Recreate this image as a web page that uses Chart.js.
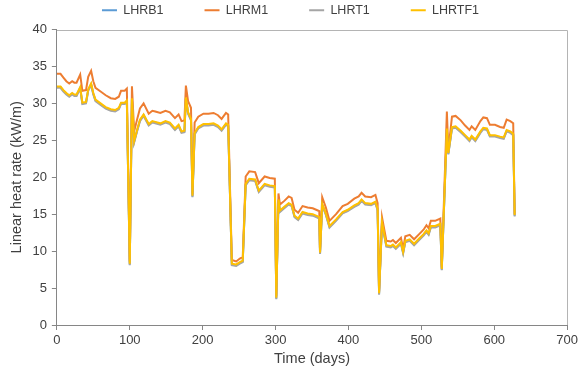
<!DOCTYPE html>
<html>
<head>
<meta charset="utf-8">
<script src="https://cdn.jsdelivr.net/npm/chart.js@4.4.1/dist/chart.umd.min.js"></script>
<style>
  html, body { margin: 0; padding: 0; background: #fff; }
  #wrap { width: 581px; height: 373px; }
</style>
</head>
<body>
<div id="wrap"><canvas id="canvas" width="581" height="373"></canvas></div>
<script>
// tempo (dias)
let dias = [0,5,9,13,17,21,24,27,32,35,
  40,43,47,50,53,60,67,74,80,85,
  88,93,96,100,103,106,110,114,119,126,
  131,135,142,149,155,162,167,171,175,177,
  180,184,186,189,194,201,208,215,221,226,
  232,235,240,246,251,255,259,264,272,277,
  285,292,299,301,304,306,312,318,322,326,
  331,337,344,351,358,360,361,364,369,374,
  383,392,399,408,414,418,423,431,437,440,
  442,446,452,458,461,465,472,475,478,484,
  490,497,503,507,510,513,519,526,528,535,
  537,542,547,554,560,566,569,574,581,585,
  590,594,601,608,613,617,622,626,628];

let lhrb1 = [32.2,32.2,31.7,31.3,31.0,31.3,31.1,31.1,32.1,30.0,
  30.1,31.8,32.6,31.3,30.4,29.9,29.4,29.1,29.0,29.3,
  30.0,30.0,30.3,8.2,30.6,24.8,26.3,27.7,28.4,27.1,
  27.5,27.4,27.2,27.5,27.3,26.5,27.0,26.1,26.2,30.7,
  28.7,27.8,17.4,25.9,26.7,27.1,27.1,27.2,26.9,26.4,
  27.2,27.0,8.2,8.1,8.4,8.6,19.0,19.7,19.6,18.1,
  19.0,18.8,18.7,3.6,16.9,15.4,15.9,16.4,16.2,14.7,
  14.3,15.2,15.0,14.9,14.6,14.5,9.7,16.3,15.0,13.3,
  14.2,15.2,15.5,16.1,16.4,16.9,16.4,16.3,16.6,15.6,
  4.2,13.8,10.7,10.6,10.8,10.4,11.1,9.8,11.3,11.5,
  10.9,11.6,12.2,12.7,12.3,13.3,13.3,13.6,7.5,26.5,
  23.2,26.7,26.8,26.2,25.6,25.0,25.5,25.0,26.1,26.6,
  26.5,25.6,25.6,25.4,25.3,26.3,26.1,25.8,14.8];

let lhrm1 = [34.0,34.0,33.5,33.0,32.7,33.0,32.8,32.8,33.9,31.7,
  31.8,33.6,34.4,33.0,32.1,31.6,31.1,30.7,30.6,30.9,
  31.7,31.7,32.0,8.6,32.3,26.2,27.8,29.3,30.0,28.6,
  29.0,28.9,28.7,29.0,28.8,28.0,28.5,27.6,27.7,32.4,
  30.3,29.4,17.7,27.4,28.2,28.6,28.6,28.7,28.4,27.9,
  28.7,28.5,8.8,8.6,9.0,9.2,20.1,20.8,20.7,19.2,
  20.1,19.9,19.8,3.9,17.8,16.3,16.8,17.4,17.2,15.6,
  15.2,16.1,15.9,15.8,15.5,15.4,10.0,17.3,15.9,14.1,
  15.0,16.1,16.4,17.1,17.4,17.9,17.4,17.3,17.6,16.5,
  4.5,14.6,11.4,11.3,11.5,11.1,11.8,10.3,12.0,12.2,
  11.6,12.3,12.9,13.5,13.1,14.1,14.1,14.4,7.8,28.9,
  23.6,28.2,28.3,27.7,27.0,26.4,26.9,26.4,27.6,28.1,
  28.0,27.1,27.1,26.8,26.7,27.8,27.6,27.3,15.0];

let lhrt1 = [32.1,32.1,31.6,31.2,30.9,31.2,31.0,31.0,32.0,29.9,
  30.0,31.7,32.5,31.2,30.3,29.8,29.3,29.0,28.9,29.2,
  29.9,29.9,30.2,8.1,30.5,24.7,26.2,27.6,28.3,27.0,
  27.4,27.3,27.1,27.4,27.2,26.4,26.9,26.0,26.1,30.6,
  28.6,27.7,17.3,25.8,26.6,27.0,27.0,27.1,26.8,26.3,
  27.1,26.9,8.1,8.0,8.3,8.5,18.9,19.6,19.5,18.0,
  18.9,18.7,18.6,3.5,16.8,15.3,15.8,16.3,16.1,14.6,
  14.2,15.1,14.9,14.8,14.5,14.4,9.6,16.2,14.9,13.2,
  14.1,15.1,15.4,16.0,16.3,16.8,16.3,16.2,16.5,15.5,
  4.1,13.7,10.6,10.5,10.7,10.3,11.0,9.7,11.2,11.4,
  10.8,11.5,12.1,12.6,12.2,13.2,13.2,13.5,7.4,26.4,
  23.1,26.6,26.7,26.1,25.5,24.9,25.4,24.9,26.0,26.5,
  26.4,25.5,25.5,25.3,25.2,26.2,26.0,25.7,14.7];

let lhrtf1 = [32.3,32.3,31.8,31.4,31.1,31.4,31.2,31.2,32.2,30.1,
  30.2,31.9,32.7,31.4,30.5,30.0,29.5,29.2,29.1,29.4,
  30.1,30.1,30.4,8.3,30.7,24.9,26.4,27.8,28.5,27.2,
  27.6,27.5,27.3,27.6,27.4,26.6,27.1,26.2,26.3,30.8,
  28.8,27.9,17.5,26.0,26.8,27.2,27.2,27.3,27.0,26.5,
  27.3,27.1,8.3,8.2,8.5,8.7,19.1,19.8,19.7,18.2,
  19.1,18.9,18.8,3.7,17.0,15.5,16.0,16.5,16.3,14.8,
  14.4,15.3,15.1,15.0,14.7,14.6,9.8,16.4,15.1,13.4,
  14.3,15.3,15.6,16.2,16.5,17.0,16.5,16.4,16.7,15.7,
  4.3,13.9,10.8,10.7,10.9,10.5,11.2,9.9,11.4,11.6,
  11.0,11.7,12.3,12.8,12.4,13.4,13.4,13.7,7.6,26.6,
  23.3,26.8,26.9,26.3,25.7,25.1,25.6,25.1,26.2,26.7,
  26.6,25.7,25.7,25.5,25.4,26.4,26.2,25.9,14.9];

function pontos(valores) {
  let out = [];
  for (let i = 0; i < dias.length; i++) {
    out.push({x: dias[i], y: valores[i]});
  }
  return out;
}

Chart.defaults.font.family = "'Liberation Sans', Arial, sans-serif";
Chart.defaults.color = '#404040';

// linha de cima e da direita da area do grafico
let moldura = {
  id: 'moldura',
  beforeDatasetsDraw(chart) {
    let a = chart.chartArea;
    let ctx = chart.ctx;
    ctx.save();
    ctx.strokeStyle = '#b4b4b4';
    ctx.lineWidth = 1;
    ctx.beginPath();
    ctx.moveTo(a.left, Math.round(a.top) + 0.5);
    ctx.lineTo(Math.round(a.right) + 0.5, Math.round(a.top) + 0.5);
    ctx.lineTo(Math.round(a.right) + 0.5, a.bottom);
    ctx.stroke();
    ctx.restore();
  }
};

let configuracao = {
  type: 'line',
  data: {
    datasets: [{
      label: 'LHRB1',
      data: pontos(lhrb1),
      borderColor: '#5B9BD5',
      backgroundColor: '#5B9BD5',
      borderWidth: 2,
      pointRadius: 0,
      order: 3
    }, {
      label: 'LHRM1',
      data: pontos(lhrm1),
      borderColor: '#ED7D31',
      backgroundColor: '#ED7D31',
      borderWidth: 2,
      pointRadius: 0,
      order: 2
    }, {
      label: 'LHRT1',
      data: pontos(lhrt1),
      borderColor: '#A5A5A5',
      backgroundColor: '#A5A5A5',
      borderWidth: 2,
      pointRadius: 0,
      order: 1
    }, {
      label: 'LHRTF1',
      data: pontos(lhrtf1),
      borderColor: '#FFC000',
      backgroundColor: '#FFC000',
      borderWidth: 2,
      pointRadius: 0,
      order: 0
    }]
  },
  options: {
    responsive: false,
    animation: false,
    devicePixelRatio: 1,
    layout: {
      padding: {top: -34, right: 8, left: 8, bottom: 5}
    },
    plugins: {
      legend: {
        display: true,
        position: 'top',
        labels: {
          usePointStyle: true,
          pointStyle: 'line',
          pointStyleWidth: 15,
          padding: 41,
          color: '#404040',
          font: {size: 12.5},
          sort: function(a, b) { return a.datasetIndex - b.datasetIndex; }
        }
      },
      tooltip: {enabled: false}
    },
    scales: {
      x: {
        type: 'linear',
        min: 0,
        max: 700,
        ticks: {stepSize: 100, padding: 3, color: '#404040', font: {size: 13}},
        grid: {display: true, drawOnChartArea: false, drawTicks: true, tickLength: 5, color: '#868686'},
        border: {display: true, color: '#868686'},
        title: {display: true, text: 'Time (days)', color: '#404040', font: {size: 14.5}, padding: {top: -1, bottom: 0}}
      },
      y: {
        min: 0,
        max: 40,
        ticks: {stepSize: 5, padding: 5, color: '#404040', font: {size: 13}},
        grid: {display: true, drawOnChartArea: false, drawTicks: true, tickLength: 5, color: '#868686'},
        border: {display: true, color: '#868686'},
        title: {display: true, text: 'Linear heat rate (kW/m)', color: '#404040', font: {size: 14.5}, padding: {top: 0, bottom: 2}}
      }
    }
  },
  plugins: [moldura, {
    id: 'subirLegenda',
    afterLayout(chart) {
      chart.legend.top -= 3;
      chart.legend.bottom -= 3;
    }
  }]
};

let chart = new Chart(document.getElementById('canvas'), configuracao);
</script>
</body>
</html>
